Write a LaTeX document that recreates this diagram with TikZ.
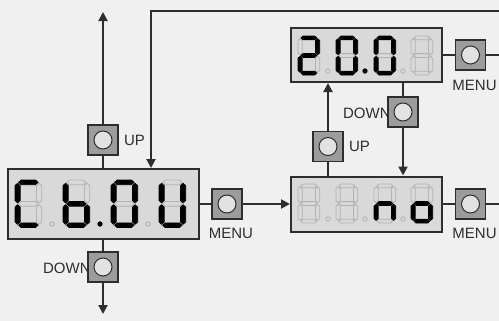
\documentclass[tikz,border=0pt]{standalone}
\usepackage{fontspec}
\setsansfont{Liberation Sans}
\usetikzlibrary{arrows.meta,positioning}

\definecolor{bggray}{HTML}{F0F0F0}
\definecolor{lcdgray}{HTML}{D9D9D9}
\definecolor{btngray}{HTML}{9C9C9C}
\definecolor{btnlight}{HTML}{E2E2E2}
\definecolor{linegray}{HTML}{2E2E2E}

\tikzset{
    on/.style={fill=black, draw=black, line width=0.4pt},
    off/.style={draw=gray!60, line width=0.4pt},
    lcd/.style={draw=linegray, fill=lcdgray, line width=1pt, inner sep=0pt},
    button/.style={draw=linegray, fill=btngray, line width=0.6pt, minimum size=15pt, inner sep=0pt,
        path picture={\draw[fill=btnlight, draw=linegray, line width=0.5pt] (path picture bounding box.center) circle (4.5pt);}},
    lbl/.style={font=\sffamily\fontsize{7.5}{8}\selectfont, text=linegray, inner sep=0pt},
    wire/.style={draw=linegray, line width=1pt},
    flow/.style={wire, -{Triangle[length=4.5pt, width=4.5pt]}}
}

% one segment of the display
\newcommand{\hseg}[3]{(#1+0.5,#3) -- (#1+1.7,#3-1.2) -- (#2-1.7,#3-1.2) -- (#2-0.5,#3) -- (#2-1.7,#3+1.2) -- (#1+1.7,#3+1.2) -- cycle}
\newcommand{\vseg}[3]{(#1,#2+0.5) -- (#1+1.2,#2+1.7) -- (#1+1.2,#3-1.7) -- (#1,#3-0.5) -- (#1-1.2,#3-1.7) -- (#1-1.2,#2+1.7) -- cycle}

% seven segment digit: top-left, scaling, segments a b c d e f g
\newcommand{\segdigit}[9]{%
    \begin{scope}[shift={#1}, #2]
        \draw[#3] \hseg{1.2}{11.2}{1.2};
        \draw[#4] \vseg{11.2}{1.2}{12.2};
        \draw[#5] \vseg{11.2}{12.2}{23.2};
        \draw[#6] \hseg{1.2}{11.2}{23.2};
        \draw[#7] \vseg{1.2}{12.2}{23.2};
        \draw[#8] \vseg{1.2}{1.2}{12.2};
        \draw[#9] \hseg{1.2}{11.2}{12.2};
    \end{scope}}
\newcommand{\segdot}[2]{\draw[#2] #1 circle (1.1pt);}

\begin{document}
\begin{tikzpicture}[x=0.5pt, y=-0.5pt]
    \useasboundingbox (0,0) rectangle (499,321);
    \fill[bggray] (0,0) rectangle (499,321);

    % Displays
    \node[lcd, minimum width=95.5pt, minimum height=35pt] (chau) at (103,204) {};
    \node[lcd, minimum width=75.5pt, minimum height=27.5pt] (no) at (366.5,204) {};
    \node[lcd, minimum width=75.5pt, minimum height=27pt] (time) at (366.5,55) {};

    % Digits of the left display
    \segdigit{(15,180)}{xscale=2.15, yscale=1.95}{on}{off}{off}{on}{on}{on}{off}
    \segdigit{(63,180)}{xscale=2.15, yscale=1.95}{off}{off}{on}{on}{on}{on}{on}
    \segdigit{(111,180)}{xscale=2.15, yscale=1.95}{on}{on}{on}{on}{on}{on}{off}
    \segdigit{(159,180)}{xscale=2.15, yscale=1.95}{off}{on}{on}{on}{on}{on}{off}
    \segdot{(52,224)}{off}
    \segdot{(100,224)}{on}
    \segdot{(148,224)}{off}

    % Digits of the lower right display
    \segdigit{(298,184)}{xscale=1.75, yscale=1.6}{off}{off}{off}{off}{off}{off}{off}
    \segdigit{(336,184)}{xscale=1.75, yscale=1.6}{off}{off}{off}{off}{off}{off}{off}
    \segdigit{(374,184)}{xscale=1.75, yscale=1.6}{off}{off}{on}{off}{on}{off}{on}
    \segdigit{(411,184)}{xscale=1.75, yscale=1.6}{off}{off}{on}{on}{on}{off}{on}
    \segdot{(328,219)}{off}
    \segdot{(365,219)}{off}
    \segdot{(403,219)}{off}

    % Digits of the upper right display
    \segdigit{(298,36)}{xscale=1.75, yscale=1.6}{on}{on}{off}{on}{on}{off}{on}
    \segdigit{(336,36)}{xscale=1.75, yscale=1.6}{on}{on}{on}{on}{on}{on}{off}
    \segdigit{(374,36)}{xscale=1.75, yscale=1.6}{on}{on}{on}{on}{on}{on}{off}
    \segdigit{(411,36)}{xscale=1.75, yscale=1.6}{off}{off}{off}{off}{off}{off}{off}
    \segdot{(328,71)}{off}
    \segdot{(365,71)}{on}
    \segdot{(403,71)}{off}

    % Buttons and labels
    \node[lbl, anchor=east] (downAl) at (91,268) {DOWN};
    \node[lbl, anchor=east] (downBl) at (391,113) {DOWN};
    \node[button] (upA) at (103,140) {};
    \node[button] (downA) at (103,267) {};
    \node[button] (menuA) at (227,204) {};
    \node[button] (upB) at (328,146.5) {};
    \node[button] (downB) at (403,112) {};
    \node[button] (menuC) at (470.5,55) {};
    \node[button] (menuB) at (470.5,204) {};
    \node[lbl, right=2.5pt of upA] (upAl) {UP};
    \node[lbl, right=2.5pt of upB] (upBl) {UP};
    \node[lbl, below=4pt of menuA, xshift=2pt] (menuAl) {MENU};
    \node[lbl, below=4.5pt of menuC, xshift=2pt] (menuCl) {MENU};
    \node[lbl, below=4pt of menuB, xshift=2pt] (menuBl) {MENU};

    % Loose ends
    \coordinate (upend) at (103,12);
    \coordinate (downend) at (103,314);
    \coordinate (loop) at (499,11);
    \coordinate (edgeC) at (499,55);
    \coordinate (edgeB) at (499,204);

    % Connectors
    \draw[flow] (upA) -- (upend);
    \draw[wire] (upA) -- (chau);
    \draw[wire] (chau) -- (downA);
    \draw[flow] (downA) -- (downend);
    \draw[flow] (loop) -| ([xshift=24pt]chau.north);
    \draw[wire] (chau) -- (menuA);
    \draw[flow] (menuA) -- (no);
    \draw[wire] (no) -- (menuB);
    \draw[wire] (menuB) -- (edgeB);
    \draw[wire] (time) -- (menuC);
    \draw[wire] (menuC) -- (edgeC);
    \draw[wire] (no.north -| upB) -- (upB);
    \draw[flow] (upB) -- (upB |- time.south);
    \draw[wire] (time.south -| downB) -- (downB);
    \draw[flow] (downB) -- (downB |- no.north);
\end{tikzpicture}
\end{document}
